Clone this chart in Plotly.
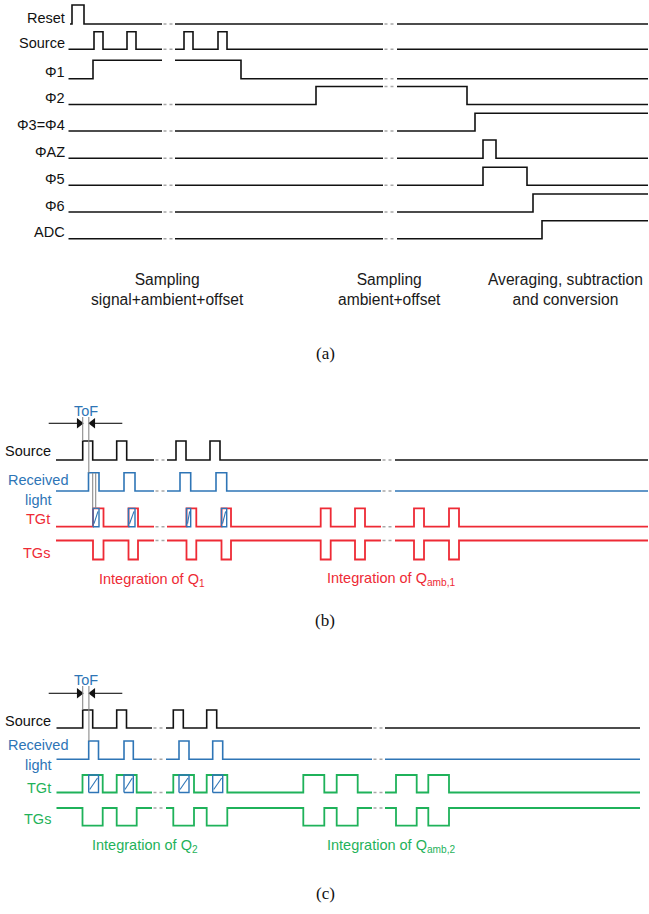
import plotly.graph_objects as go

# ---------------- data: edge times (toggle instants) ----------------
# Panel (a)
A_NAMES = ["Reset", "Source", "Φ1", "Φ2", "Φ3=Φ4", "ΦAZ", "Φ5", "Φ6", "ADC"]
A_EDGES = [
    [72, 84],
    [94, 103, 127, 136, 184, 193, 218, 227],
    [93, 241],
    [316, 467],
    [475],
    [483, 496],
    [483, 527],
    [533],
    [542],
]
A_GAPS = [(162, 175), (383, 397)]
A_PHASES = ["Sampling<br>signal+ambient+offset", "Sampling<br>ambient+offset",
            "Averaging, subtraction<br>and conversion"]

# Panel (b)
B_SOURCE = [82.7, 92.7, 116.7, 126.7, 176, 186, 210, 220]
B_RECV = [88.5, 99, 124, 135, 180, 190.7, 216, 226.7]
B_TG = [93, 103.5, 128.5, 138, 186.5, 196.3, 221.5, 231,
        320.7, 330.7, 355, 365, 414, 424, 449, 459]
B_GAPS = [(154, 167), (381, 395)]

# Panel (c)
C_SOURCE = [82.7, 92.7, 116.7, 126.5, 173.3, 183.3, 206.7, 216.7]
C_RECV = [88.7, 98.5, 124, 133.3, 179, 189, 212.7, 222.7]
C_TG = [82.5, 102.7, 116.7, 136.7, 173.3, 194, 206.7, 227.3,
        303.3, 324.3, 336.7, 357.7, 396, 416.7, 428.3, 449]
C_GAPS = [(152, 166), (372, 385)]

# ---------------- style ----------------
BLACK = "#111111"
BLUE = "#2E75B6"
RED = "#EE2A35"
GREEN = "#1FB25A"
GREY = "#8A8A8A"
DOT = "#A8A8A8"
SANS = "Liberation Sans, Arial, sans-serif"
SERIF = "Liberation Serif, Times New Roman, serif"

fig = go.Figure()


def step_points(start, end, edges, lvl0):
    xs, ys = [start], [lvl0]
    lvl = lvl0
    for e in edges:
        xs += [e, e]
        ys += [lvl, 1 - lvl]
        lvl = 1 - lvl
    xs.append(end)
    ys.append(lvl)
    return xs, ys


def clip(xs, ys, gaps):
    ox, oy = [xs[0]], [ys[0]]
    for i in range(len(xs) - 1):
        a, b, y0, y1 = xs[i], xs[i + 1], ys[i], ys[i + 1]
        if y0 != y1 or a == b:
            ox.append(b); oy.append(y1)
            continue
        for g0, g1 in sorted(gaps):
            if g1 <= a or g0 >= b:
                continue
            ox += [g0, None, g1]
            oy += [y0, None, y0]
        ox.append(b); oy.append(y1)
    return ox, oy


def level_at(t, edges, lvl0):
    n = sum(1 for e in edges if e <= t)
    return lvl0 if n % 2 == 0 else 1 - lvl0


def wave(edges, start, end, base, height, color, gaps, lvl0=0, width=1.6,
         dots_skip=()):
    xs, ys = step_points(start, end, edges, lvl0)
    ox, oy = clip(xs, ys, gaps)
    py = [None if v is None else base - v * height for v in oy]
    fig.add_trace(go.Scatter(x=ox, y=py, mode="lines",
                             line=dict(color=color, width=width, shape="linear"),
                             hoverinfo="skip", showlegend=False))
    for k, (g0, g1) in enumerate(gaps):
        if k in dots_skip:
            continue
        lv = level_at((g0 + g1) / 2, edges, lvl0)
        fig.add_trace(go.Scatter(x=[g0 + 1.5, g1 - 1.5], y=[base - lv * height] * 2,
                                 mode="lines",
                                 line=dict(color=DOT, width=1.4, dash="dot"),
                                 hoverinfo="skip", showlegend=False))


def pulses(edges):
    return [(edges[i], edges[i + 1]) for i in range(0, len(edges) - 1, 2)]


def overlap_boxes(recv, tg, base, height):
    for r0, r1 in pulses(recv):
        for t0, t1 in pulses(tg):
            a, b = max(r0, t0), min(r1, t1)
            if b > a:
                top = base - height
                fig.add_trace(go.Scatter(x=[a, b, b, a, a], y=[base, base, top, top, base],
                                         mode="lines", line=dict(color=BLUE, width=1.4),
                                         hoverinfo="skip", showlegend=False))
                fig.add_trace(go.Scatter(x=[a + 1, b - 1], y=[base - 3, top + 3],
                                         mode="lines", line=dict(color=BLUE, width=1.1),
                                         hoverinfo="skip", showlegend=False))


def vline(x, y0, y1, color=GREY, width=1.1):
    fig.add_trace(go.Scatter(x=[x, x], y=[y0, y1], mode="lines",
                             line=dict(color=color, width=width),
                             hoverinfo="skip", showlegend=False))


def label(text, x, y, color=BLACK, size=14.5, xanchor="right", family=SANS):
    fig.add_annotation(x=x, y=y, text=text, showarrow=False, xref="x", yref="y",
                       xanchor=xanchor, yanchor="middle",
                       font=dict(family=family, size=size, color=color))


def tof(xl, xr, y, ytext):
    label("ToF", (xl + xr) / 2, ytext, color=BLUE, size=14.5, xanchor="center")
    for head, tail, sym, d in ((xl, xl - 34, "triangle-right", -3.5),
                               (xr, xr + 33, "triangle-left", 3.5)):
        fig.add_trace(go.Scatter(x=[tail, head + d], y=[y, y], mode="lines",
                                 line=dict(color=BLACK, width=1.1),
                                 hoverinfo="skip", showlegend=False))
        fig.add_trace(go.Scatter(x=[head + d], y=[y], mode="markers",
                                 marker=dict(symbol=sym, size=9, color=BLACK,
                                             line=dict(width=0)),
                                 hoverinfo="skip", showlegend=False))


# ---------------- panel (a) ----------------
A_BASES = [24, 49.3, 78.7, 104.5, 131, 158.3, 185.3, 212, 238.7]
A_HEIGHTS = [19, 17.5, 18.5, 18, 17.7, 18.3, 18, 18, 18]
for i, (name, edges) in enumerate(zip(A_NAMES, A_EDGES)):
    start = 70 if i == 0 else 68.5
    wave(edges, start, 648, A_BASES[i], A_HEIGHTS[i], BLACK, A_GAPS,
         dots_skip=(0,) if name == "Φ1" else ())
    label(name, 67, A_BASES[i] - 6.5)

for txt, xc in zip(A_PHASES, [167, 389, 565.5]):
    label(txt, xc, 289, size=15.6, xanchor="center", color="#1a1a1a")
label("(a)", 325, 353, size=17, xanchor="center", family=SERIF)

# ---------------- panel (b) ----------------
wave(B_SOURCE, 56, 648, 460, 19, BLACK, B_GAPS)
wave(B_RECV, 56, 648, 491, 18.3, BLUE, B_GAPS)
wave(B_TG, 56, 648, 526.7, 18.3, RED, B_GAPS, width=1.8)
wave(B_TG, 56, 648, 559.5, 19, RED, B_GAPS, lvl0=1, width=1.8)
overlap_boxes(B_RECV, B_TG, 526.7, 18.3)
tof(B_SOURCE[0], B_RECV[0] + 0.8, 423.3, 410.5)
vline(B_SOURCE[0], 417, 441)
vline(B_RECV[0] + 0.3, 417, 472.7)
vline(B_TG[0] - 0.3, 473, 508.4)
vline(B_TG[0] + 2.7, 473, 508.4)
label("Source", 53, 451)
label("Received", 37.5, 480, color=BLUE, xanchor="center")
label("light", 38, 500, color=BLUE, xanchor="center")
label("TGt", 52, 518.5, color=RED)
label("TGs", 52, 552.5, color=RED)
label("Integration of Q<sub>1</sub>", 152, 580, color=RED, xanchor="center")
label("Integration of Q<sub>amb,1</sub>", 391, 579, color=RED, xanchor="center")
label("(b)", 325, 620, size=17, xanchor="center", family=SERIF)

# ---------------- panel (c) ----------------
wave(C_SOURCE, 56.5, 640, 728, 18, BLACK, C_GAPS)
wave(C_RECV, 56.5, 640, 759.3, 18.3, BLUE, C_GAPS)
wave(C_TG, 56.5, 640, 792.5, 17.5, GREEN, C_GAPS, width=1.8)
wave(C_TG, 56.5, 640, 825.7, 17.7, GREEN, C_GAPS, lvl0=1, width=1.8)
overlap_boxes(C_RECV, C_TG, 792.5, 17.5)
tof(C_SOURCE[0], C_RECV[0] + 0.6, 693.3, 680)
vline(C_SOURCE[0], 686, 710)
vline(C_RECV[0] + 0.2, 686, 741)
label("Source", 53, 720.5)
label("Received", 38, 745, color=BLUE, xanchor="center")
label("light", 38, 765, color=BLUE, xanchor="center")
label("TGt", 53, 788, color=GREEN)
label("TGs", 53, 818.5, color=GREEN)
label("Integration of Q<sub>2</sub>", 145, 846, color=GREEN, xanchor="center")
label("Integration of Q<sub>amb,2</sub>", 391, 846, color=GREEN, xanchor="center")
label("(c)", 325, 893, size=17, xanchor="center", family=SERIF)

fig.update_layout(
    width=649, height=914,
    margin=dict(l=0, r=0, t=0, b=0),
    paper_bgcolor="white", plot_bgcolor="white",
    xaxis=dict(range=[0, 649], visible=False, fixedrange=True),
    yaxis=dict(range=[914, 0], visible=False, fixedrange=True),
    showlegend=False,
)
fig.write_html(
    "out.html",
    config={"displayModeBar": False},
    post_script="document.body.style.margin='0';document.body.style.padding='0';"
                "document.body.style.overflow='hidden';"
                "document.documentElement.style.overflow='hidden';",
)
